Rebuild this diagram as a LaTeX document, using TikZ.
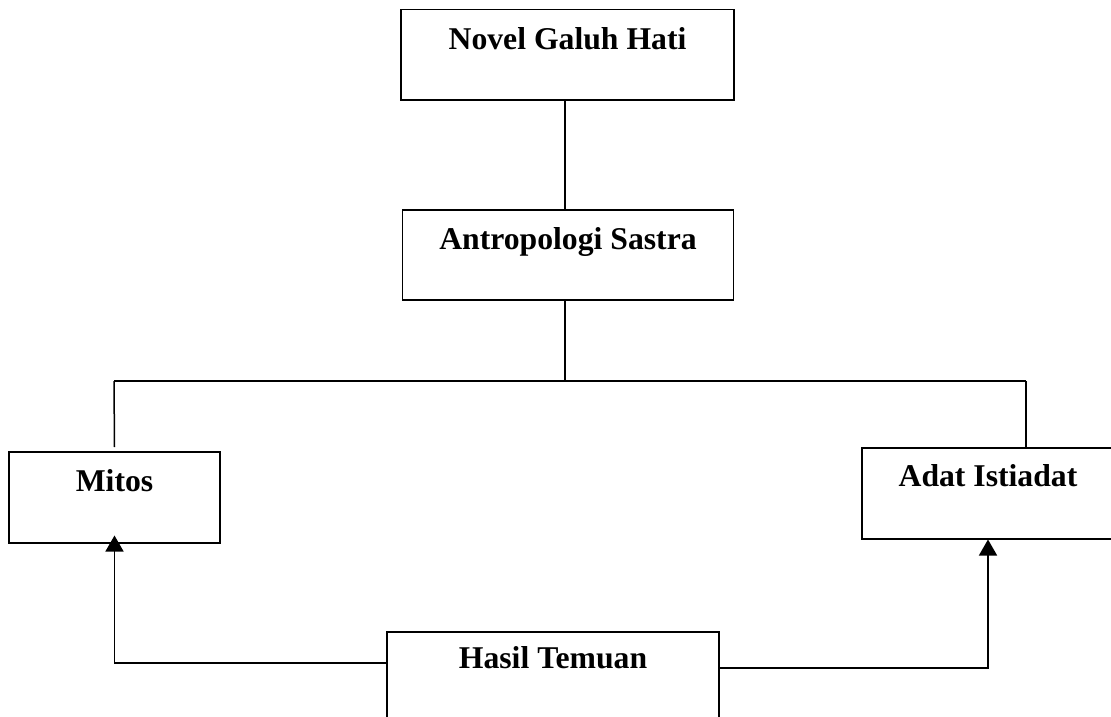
\documentclass[tikz,border=0pt]{standalone}
\usepackage{fontspec}
\setmainfont{Liberation Serif}
\usetikzlibrary{arrows.meta}
\tikzset{
  kotak/.style={draw, line width=1.5pt, inner sep=0pt, anchor=north,
    text height=40pt, text depth=50pt,
    font=\fontsize{31.7}{38}\selectfont\bfseries},
  garis/.style={line width=1.5pt},
  panah/.style={line width=1.5pt, -{Triangle[width=18pt,length=16pt]}}
}
\begin{document}
\begin{tikzpicture}[x=1pt,y=-1pt]
  %picture in pixel coordinates, y runs downwards
  \useasboundingbox (0,0) rectangle (1111,717);

  % the boxes
  \node[kotak, minimum width=333pt] (novel) at (567.5,9) {Novel Galuh Hati};
  \node[kotak, minimum width=331pt] (antro) at (568,209) {Antropologi Sastra};
  \node[kotak, minimum width=211pt, text depth=51pt] (mitos) at (114.5,451) {Mitos};
  \node[kotak, minimum width=252pt, text height=39pt, text depth=52pt] (adat) at (988,447) {Adat Istiadat};
  \node[kotak, minimum width=332pt, text height=37pt, text depth=53pt] (hasil) at (553,631) {Hasil Temuan};

  % branching lines
  \coordinate (tengah) at (565,381);
  \coordinate (kiri) at (114,381);
  \coordinate (kanan) at (1026,381);
  \draw[garis] (tengah |- novel.south) -- (tengah |- antro.north);
  \draw[garis] (tengah |- antro.south) -- (tengah);
  \draw[garis] (kiri) -- (kanan);
  \draw[garis] (kiri) -- ([yshift=4pt]mitos.north);
  \draw[garis] (kanan) -- (kanan |- adat.north);

  % arrows from the findings
  \draw[panah, shorten >=-8pt] ([yshift=-32pt]hasil.north west) -| (mitos.south);
  \draw[panah] ([yshift=-37pt]hasil.north east) -| (adat.south);
\end{tikzpicture}
\end{document}
